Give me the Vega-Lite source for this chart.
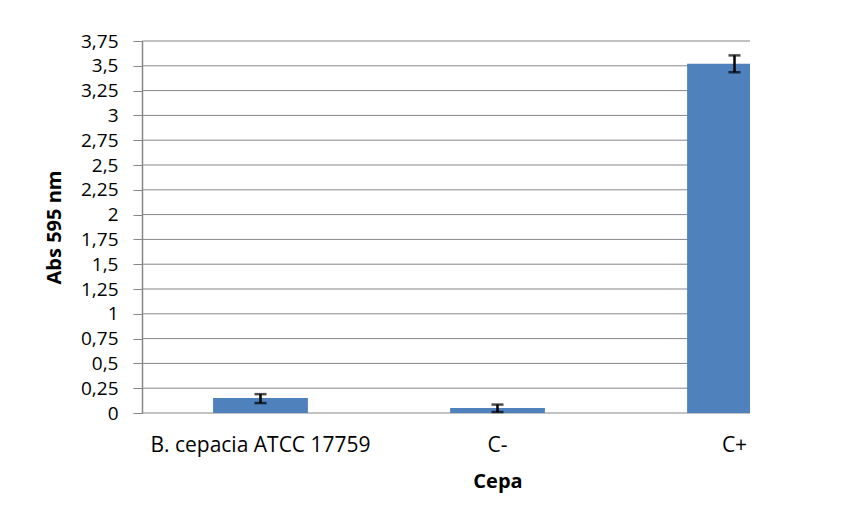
{
  "$schema": "https://vega.github.io/schema/vega-lite/v6.json",
  "width": 608,
  "height": 372,
  "autosize": "none",
  "padding": {"left": 142, "top": 41, "right": 114, "bottom": 99},
  "background": "white",
  "config": {"view": {"stroke": null}, "font": "Open Sans"},
  "datasets": {
    "bars": [
      {"cepa": "B. cepacia ATCC 17759", "abs": 0.15, "lo": 0.10, "hi": 0.19},
      {"cepa": "C-", "abs": 0.05, "lo": 0.01, "hi": 0.085},
      {"cepa": "C+", "abs": 3.52, "lo": 3.435, "hi": 3.605}
    ],
    "grid": [
      {"v": 0}, {"v": 0.25}, {"v": 0.5}, {"v": 0.75}, {"v": 1}, {"v": 1.25}, {"v": 1.5}, {"v": 1.75},
      {"v": 2}, {"v": 2.25}, {"v": 2.5}, {"v": 2.75}, {"v": 3}, {"v": 3.25}, {"v": 3.5}, {"v": 3.75}
    ]
  },
  "layer": [
    {
      "data": {"name": "grid"},
      "mark": {"type": "rule", "color": "#868686", "strokeWidth": 1},
      "encoding": {
        "y": {
          "field": "v",
          "type": "quantitative",
          "scale": {"domain": [0, 3.75], "nice": false},
          "axis": {
            "title": "Abs 595 nm",
            "titleFont": "Open Sans",
            "titleFontSize": 20,
            "titleFontWeight": "bold",
            "titleColor": "#000000",
            "titlePadding": 16,
            "values": [0, 0.25, 0.5, 0.75, 1, 1.25, 1.5, 1.75, 2, 2.25, 2.5, 2.75, 3, 3.25, 3.5, 3.75],
            "labelExpr": "replace(format(datum.value, '.2~f'), '.', ',')",
            "labelOverlap": false,
            "labelFontSize": 19,
            "labelColor": "#000000",
            "labelPadding": 15,
            "tickSize": 9,
            "tickColor": "#868686",
            "domainColor": "#868686",
            "domainWidth": 1.5,
            "grid": false
          }
        }
      }
    },
    {
      "data": {"name": "bars"},
      "mark": {"type": "bar", "color": "#4F81BD", "clip": true},
      "encoding": {
        "x": {
          "field": "cepa",
          "type": "nominal",
          "sort": null,
          "scale": {"range": [0, 711], "paddingInner": 0.6, "paddingOuter": 0.3},
          "axis": {
            "title": "Cepa",
            "titleFont": "Open Sans",
            "titleFontSize": 20,
            "titleFontWeight": "bold",
            "titleColor": "#000000",
            "titleX": 355.5,
            "titleAlign": "center",
            "titlePadding": 16,
            "labelAngle": 0,
            "labelFontSize": 21,
            "labelLimit": 0,
            "labelColor": "#000000",
            "labelPadding": 21,
            "ticks": false,
            "domain": false,
            "grid": false
          }
        },
        "y": {
          "field": "abs",
          "type": "quantitative",
          "axis": {
            "title": "Abs 595 nm",
            "titleFont": "Open Sans",
            "titleFontSize": 20,
            "titleFontWeight": "bold",
            "titleColor": "#000000",
            "titlePadding": 16,
            "values": [0, 0.25, 0.5, 0.75, 1, 1.25, 1.5, 1.75, 2, 2.25, 2.5, 2.75, 3, 3.25, 3.5, 3.75],
            "labelExpr": "replace(format(datum.value, '.2~f'), '.', ',')",
            "labelOverlap": false,
            "labelFontSize": 19,
            "labelColor": "#000000",
            "labelPadding": 15,
            "tickSize": 9,
            "tickColor": "#868686",
            "domainColor": "#868686",
            "domainWidth": 1.5,
            "grid": false
          }
        }
      }
    },
    {
      "data": {"name": "bars"},
      "mark": {"type": "rule", "color": "#000000", "strokeWidth": 2.5},
      "encoding": {
        "x": {"field": "cepa", "type": "nominal", "sort": null},
        "y": {"field": "lo", "type": "quantitative", "axis": {"title": "Abs 595 nm", "values": [0, 0.25, 0.5, 0.75, 1, 1.25, 1.5, 1.75, 2, 2.25, 2.5, 2.75, 3, 3.25, 3.5, 3.75]}},
        "y2": {"field": "hi"}
      }
    },
    {
      "data": {"name": "bars"},
      "mark": {"type": "tick", "color": "#000000", "thickness": 2.5, "size": 12},
      "encoding": {
        "x": {"field": "cepa", "type": "nominal", "sort": null},
        "y": {"field": "lo", "type": "quantitative", "axis": {"title": "Abs 595 nm", "values": [0, 0.25, 0.5, 0.75, 1, 1.25, 1.5, 1.75, 2, 2.25, 2.5, 2.75, 3, 3.25, 3.5, 3.75]}}
      }
    },
    {
      "data": {"name": "bars"},
      "mark": {"type": "tick", "color": "#000000", "thickness": 2.5, "size": 12},
      "encoding": {
        "x": {"field": "cepa", "type": "nominal", "sort": null},
        "y": {"field": "hi", "type": "quantitative", "axis": {"title": "Abs 595 nm", "values": [0, 0.25, 0.5, 0.75, 1, 1.25, 1.5, 1.75, 2, 2.25, 2.5, 2.75, 3, 3.25, 3.5, 3.75]}}
      }
    }
  ]
}
